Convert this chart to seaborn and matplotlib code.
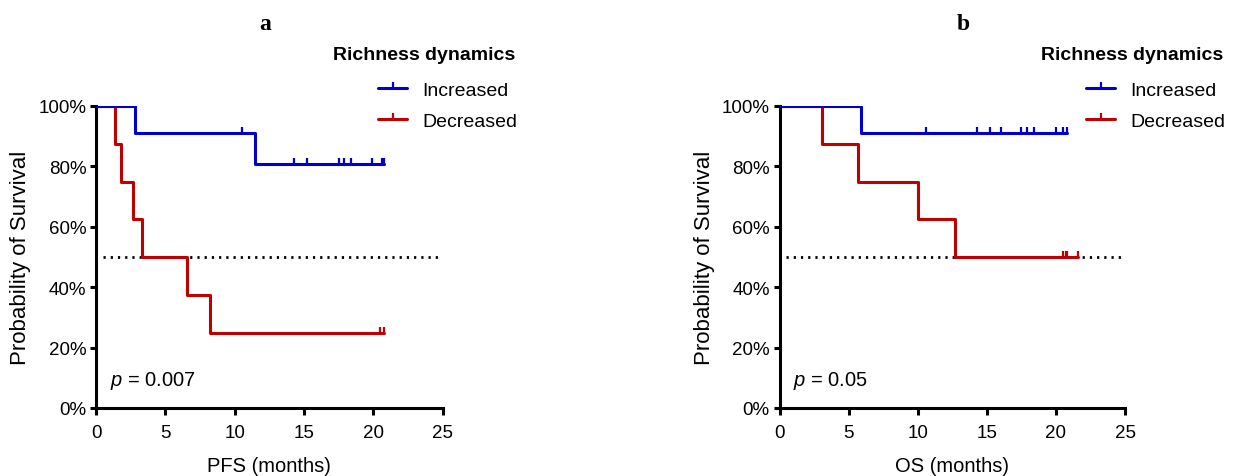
import numpy as np
import pandas as pd
import matplotlib
matplotlib.use("Agg")
import matplotlib.pyplot as plt
from matplotlib.lines import Line2D
from matplotlib.ticker import PercentFormatter, MultipleLocator
import seaborn as sns

# Follow-up (months) and event flags (1 = event, 0 = censored)
pfs_inc_time = [2.8, 10.5, 11.5, 14.3, 15.2, 17.5, 17.9, 18.4, 19.9, 20.6, 20.8]
pfs_inc_event = [1, 0, 1, 0, 0, 0, 0, 0, 0, 0, 0]
pfs_dec_time = [1.4, 1.8, 2.7, 3.3, 6.6, 8.2, 20.5, 20.8]
pfs_dec_event = [1, 1, 1, 1, 1, 1, 0, 0]

os_inc_time = [5.9, 10.6, 14.3, 15.2, 16.0, 17.5, 17.9, 18.4, 20.0, 20.5, 20.8]
os_inc_event = [1, 0, 0, 0, 0, 0, 0, 0, 0, 0, 0]
os_dec_time = [3.1, 5.7, 10.0, 12.7, 20.5, 20.7, 20.8, 21.6]
os_dec_event = [1, 1, 1, 1, 0, 0, 0, 0]

groups = ["Increased", "Decreased"]
colors = {"Increased": "#0000CC", "Decreased": "#C00000"}
panel_letters = ["a", "b"]
x_labels = ["PFS (months)", "OS (months)"]
p_labels = ["0.007", "0.05"]
legend_title = "Richness dynamics"

sns.set_style("ticks")
plt.rcParams["font.family"] = ["Liberation Sans", "DejaVu Sans"]
plt.rcParams.update({
    "text.color": "black",
    "axes.labelcolor": "black",
    "axes.edgecolor": "black",
    "xtick.color": "black",
    "ytick.color": "black",
    "mathtext.fontset": "custom",
    "mathtext.rm": "Liberation Sans",
    "mathtext.it": "Liberation Sans:italic",
})


def kaplan_meier(times, events):
    df = pd.DataFrame({"t": times, "e": events}).sort_values("t")
    surv = 1.0
    xs, ys = [0.0], [1.0]
    cx, cy = [], []
    at_risk = len(df)
    for t, g in df.groupby("t", sort=True):
        d = int(g["e"].sum())
        c = int((g["e"] == 0).sum())
        if d:
            surv *= (at_risk - d) / at_risk
        xs.append(t)
        ys.append(surv)
        if c:
            cx.extend([t] * c)
            cy.extend([surv] * c)
        at_risk -= d + c
    return pd.DataFrame({"time": xs, "survival": ys}), cx, cy


W, H = 1233, 477
fig = plt.figure(figsize=(W / 100, H / 100), dpi=100)

ax_px = [(96, 442.5), (779.5, 1125)]
y_top, y_bot = 107, 409
data = [
    {"Increased": (pfs_inc_time, pfs_inc_event), "Decreased": (pfs_dec_time, pfs_dec_event)},
    {"Increased": (os_inc_time, os_inc_event), "Decreased": (os_dec_time, os_dec_event)},
]
title_px = [(265, 25), (963, 25)]
legtitle_px = [(333, 56), (1041, 56)]
leghandle_px = [(378, 82), (1086, 82)]

for i, (x0, x1) in enumerate(ax_px):
    ax = fig.add_axes([x0 / W, 1 - y_bot / H, (x1 - x0) / W, (y_bot - y_top) / H])
    ax.axhline(0.5, xmin=0.5 / 25, xmax=24.7 / 25, color="black", lw=2.0,
               ls=(0, (0.8, 1.8)), zorder=1)
    for grp in ["Decreased", "Increased"]:
        t, e = data[i][grp]
        steps, cx, cy = kaplan_meier(t, e)
        sns.lineplot(data=steps, x="time", y="survival", ax=ax, estimator=None,
                     sort=False, drawstyle="steps-post", color=colors[grp],
                     lw=2.2, zorder=3)
        ax.plot(cx, cy, ls="none", marker=2, ms=4.5, mew=1.6,
                color=colors[grp], zorder=3)

    ax.set_xlim(0, 25)
    ax.set_ylim(0, 1)
    ax.xaxis.set_major_locator(MultipleLocator(5))
    ax.yaxis.set_major_locator(MultipleLocator(0.2))
    ax.yaxis.set_major_formatter(PercentFormatter(1.0, decimals=0))
    sns.despine(ax=ax)
    for s in ["left", "bottom"]:
        ax.spines[s].set_linewidth(2.2)
    ax.tick_params(axis="x", length=5, width=2.2, pad=6.5, labelsize=13.5)
    ax.tick_params(axis="y", length=4.5, width=2.2, pad=2.5, labelsize=13.5)
    ax.set_xlabel(x_labels[i], fontsize=14.5)
    ax.set_ylabel("Probability of Survival", fontsize=16)
    ax.xaxis.set_label_coords(0.5, -0.16)
    ax.yaxis.set_label_coords(-0.188, 0.5)
    ax.text(1.0, 0.093, r"$p$ = " + p_labels[i], fontsize=14.5,
            va="center", ha="left")

    fig.text(title_px[i][0] / W, 1 - title_px[i][1] / H, panel_letters[i],
             family="Liberation Serif", weight="bold", fontsize=17,
             ha="center", va="center")
    fig.text(legtitle_px[i][0] / W, 1 - legtitle_px[i][1] / H, legend_title,
             weight="bold", fontsize=14, ha="left", va="center")
    handles = [Line2D([], [], color=colors[g], lw=2.2, marker=2, ms=4.5, mew=1.6)
               for g in groups]
    fig.legend(handles, groups, loc="upper left",
               bbox_to_anchor=(leghandle_px[i][0] / W, 1 - leghandle_px[i][1] / H),
               frameon=False, fontsize=14, handlelength=1.5, handletextpad=0.8,
               labelspacing=0.72, borderpad=0, borderaxespad=0)

fig.savefig("out.png", dpi=100)
